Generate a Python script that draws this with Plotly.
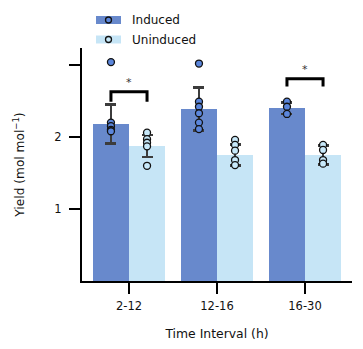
import plotly.graph_objects as go

# Yield per time interval, induced vs. uninduced cultures
intervals = ["2-12", "12-16", "16-30"]
induced_mean = [2.18, 2.39, 2.40]
induced_err = [0.27, 0.30, 0.08]
uninduced_mean = [1.875, 1.75, 1.75]
uninduced_err = [0.155, 0.145, 0.13]

induced_points = [
    [3.04, 2.20, 2.15, 2.10, 2.08],
    [3.02, 2.49, 2.42, 2.33, 2.20, 2.11],
    [2.49, 2.42, 2.32],
]
uninduced_points = [
    [2.06, 1.97, 1.92, 1.87, 1.60],
    [1.96, 1.89, 1.81, 1.68, 1.61],
    [1.89, 1.82, 1.68, 1.63],
]

# y ticks: labelled majors plus an unlabelled tick at the top
y_ticks = [1, 2]
y_extra_ticks = [3]

# significance brackets: (interval index, bracket top, leg bottom, label)
brackets = [(0, 2.63, 2.49, "*"), (2, 2.81, 2.70, "*")]

C_IND = "#6889cc"
C_UNI = "#c6e5f6"
P_IND = "#5b86dc"
P_UNI = "#c8e9fa"
ERR = "#3c3c3c"
FONT = "DejaVu Sans"
TXT = "#111111"

half = 0.205
width = 0.41
xs = list(range(len(intervals)))

fig = go.Figure()

for means, errs, off, color, name in [
    (induced_mean, induced_err, -half, C_IND, "Induced"),
    (uninduced_mean, uninduced_err, half, C_UNI, "Uninduced"),
]:
    fig.add_trace(go.Bar(
        x=[i + off for i in xs], y=means, width=width,
        marker=dict(color=color, line=dict(width=0)),
        error_y=dict(type="data", array=errs, visible=True,
                     color=ERR, thickness=2.6, width=5.5),
        name=name, showlegend=False,
    ))

for pts, off, color in [(induced_points, -half, P_IND), (uninduced_points, half, P_UNI)]:
    px, py = [], []
    for i, vals in enumerate(pts):
        px += [i + off] * len(vals)
        py += vals
    fig.add_trace(go.Scatter(
        x=px, y=py, mode="markers",
        marker=dict(size=7, color=color, line=dict(color="#111111", width=1.3)),
        showlegend=False, hoverinfo="skip",
    ))

shapes = []
annotations = []
for idx, top, leg, label in brackets:
    x0, x1 = idx - half, idx + half
    shapes.append(dict(
        type="path", xref="x", yref="y",
        path=f"M {x0},{leg} L {x0},{top} L {x1},{top} L {x1},{leg}",
        line=dict(color="black", width=3),
    ))
    annotations.append(dict(
        x=idx, y=top, xref="x", yref="y", text=label, showarrow=False,
        yanchor="bottom", yshift=1, font=dict(family=FONT, size=11, color="#333333"),
    ))

# hand-drawn legend above the plotting area (paper coordinates)
pw, ph = 270.0, 233.0
def px2x(p):
    return (p - 82) / pw
def px2y(p):
    return (281 - p) / ph

for row, (name, fill, dot) in enumerate([("Induced", C_IND, P_IND), ("Uninduced", C_UNI, P_UNI)]):
    cy = 20 + row * 19.5
    shapes.append(dict(type="rect", xref="paper", yref="paper",
                       x0=px2x(96), x1=px2x(121), y0=px2y(cy + 4), y1=px2y(cy - 4),
                       fillcolor=fill, line=dict(width=0)))
    shapes.append(dict(type="circle", xref="paper", yref="paper",
                       x0=px2x(105.5), x1=px2x(111.5), y0=px2y(cy + 3), y1=px2y(cy - 3),
                       fillcolor=dot, line=dict(color="#111111", width=1.3)))
    annotations.append(dict(x=px2x(130), y=px2y(cy), xref="paper", yref="paper",
                            text=name, showarrow=False, xanchor="left", yanchor="middle",
                            font=dict(family=FONT, size=12, color=TXT)))

fig.update_layout(
    width=363, height=349,
    margin=dict(l=82, r=11, t=48, b=68),
    paper_bgcolor="white", plot_bgcolor="white",
    font=dict(family=FONT, size=11.5, color=TXT),
    shapes=shapes, annotations=annotations,
    bargap=0,
)
fig.update_xaxes(
    range=[-0.534, 2.534], tickvals=xs, ticktext=intervals,
    tickfont=dict(size=11.5),
    showline=True, linecolor="black", linewidth=2.2, mirror=False,
    ticks="outside", ticklen=11, tickwidth=2.2, tickcolor="black",
    ticklabelstandoff=2,
    showgrid=False, zeroline=False,
    title=dict(text="Time Interval (h)", font=dict(family=FONT, size=12.4), standoff=17),
)
fig.update_yaxes(
    range=[0, 3.236], tickvals=y_ticks, ticktext=[str(v) for v in y_ticks],
    tickfont=dict(size=11.5),
    showline=True, linecolor="black", linewidth=2.2,
    ticks="outside", ticklen=11, tickwidth=2.2, tickcolor="black",
    ticklabelstandoff=5,
    minor=dict(tickvals=y_extra_ticks, ticks="outside", ticklen=11,
               tickwidth=2.2, tickcolor="black", showgrid=False),
    showgrid=False, zeroline=False,
    title=dict(text="Yield (mol mol<sup>−1</sup>)", font=dict(family=FONT, size=12.2), standoff=27),
)

fig.write_html("out.html")
